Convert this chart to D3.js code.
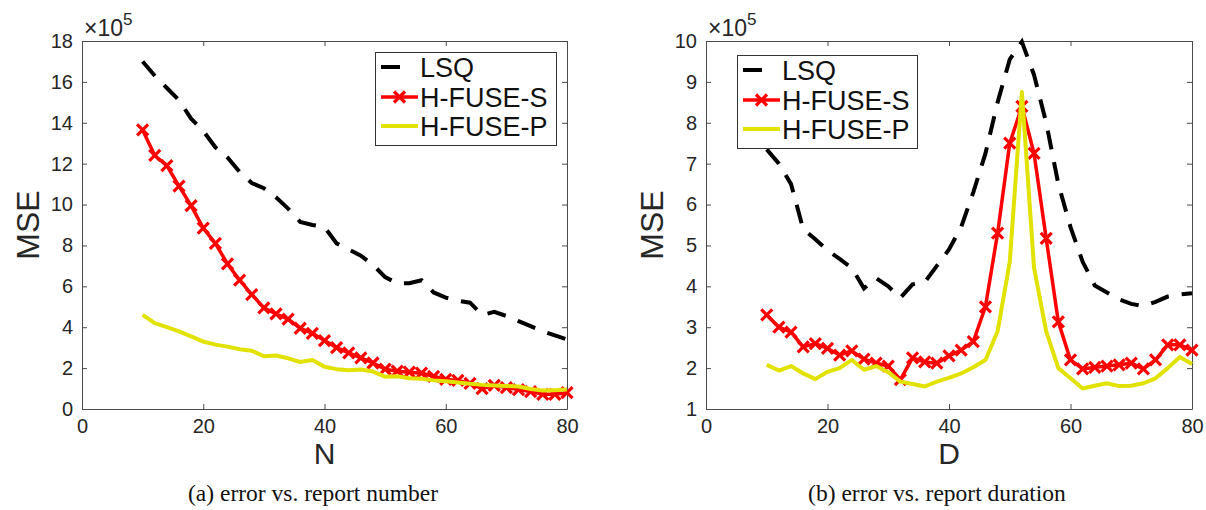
<!DOCTYPE html>
<html><head><meta charset="utf-8">
<script src="https://cdn.jsdelivr.net/npm/d3@7"></script>
<style>body{margin:0;background:#fff}svg{display:block}</style>
</head><body>
<svg id="chart" width="1206" height="510"></svg>
<script>
// ---------- data ----------
const seriesNames = ["LSQ", "H-FUSE-S", "H-FUSE-P"];

const xN = [10,12,14,16,18,20,22,24,26,28,30,32,34,36,38,40,42,44,46,48,50,52,54,56,58,60,62,64,66,68,70,72,74,76,78,80];
const lsqN = [17.0,16.3,15.7,15.1,14.2,13.6,12.8,12.3,11.6,11.05,10.8,10.35,9.8,9.15,9.0,8.9,8.1,7.8,7.5,7.05,6.45,6.15,6.15,6.3,5.7,5.45,5.3,5.2,4.6,4.75,4.55,4.3,4.05,3.8,3.6,3.4];
const hfuseSN = [13.65,12.4,11.9,10.9,9.95,8.85,8.1,7.1,6.3,5.6,4.95,4.65,4.4,3.95,3.7,3.35,3.0,2.75,2.5,2.25,1.95,1.85,1.8,1.75,1.6,1.45,1.4,1.25,1.0,1.15,1.05,0.95,0.85,0.72,0.72,0.8];
const hfusePN = [4.6,4.2,4.0,3.8,3.55,3.3,3.15,3.05,2.92,2.85,2.58,2.62,2.48,2.3,2.4,2.07,1.95,1.9,1.93,1.83,1.58,1.6,1.5,1.48,1.4,1.36,1.3,1.23,1.18,1.15,1.13,1.1,0.98,0.9,0.92,0.95];

const xD = [10,12,14,16,18,20,22,24,26,28,30,32,34,36,38,40,42,44,46,48,50,52,54,56,58,60,62,64,66,68,70,72,74,76,78,80];
const lsqD = [7.35,7.0,6.5,5.4,5.15,4.88,4.67,4.45,3.95,4.2,4.0,3.72,4.05,4.1,4.5,4.9,5.45,6.3,7.25,8.5,9.55,9.98,9.17,8.0,6.5,5.45,4.6,4.02,3.85,3.68,3.57,3.52,3.62,3.75,3.8,3.83];
const hfuseSD = [3.3,3.0,2.88,2.52,2.6,2.48,2.32,2.42,2.22,2.12,2.05,1.72,2.25,2.15,2.12,2.3,2.44,2.65,3.5,5.3,7.5,8.4,7.25,5.17,3.13,2.2,1.98,2.02,2.05,2.08,2.12,1.98,2.2,2.57,2.57,2.44];
const hfusePD = [2.08,1.94,2.05,1.87,1.73,1.91,2.0,2.2,1.96,2.05,1.9,1.67,1.61,1.55,1.67,1.76,1.87,2.02,2.2,2.9,4.6,8.75,4.45,2.9,2.0,1.75,1.5,1.57,1.63,1.56,1.57,1.63,1.75,2.0,2.27,2.1];

const xTicks = [0,20,40,60,80];
const yTicksN = [0,2,4,6,8,10,12,14,16,18];
const yTicksD = [1,2,3,4,5,6,7,8,9,10];
const xLabels = ["N", "D"];
const captions = ["(a) error vs. report number", "(b) error vs. report duration"];

// ---------- layout / style ----------
const FONT = "'Liberation Sans', Arial, Helvetica, sans-serif";
const COLORS = {lsq: "#000000", s: "#ff0000", p: "#e2e200"};
const AXIS = "#4a4a4a", TXT = "#262626";

const panels = [
  {x0: 82, x1: 567, y0: 41, y1: 409, xDom: [0, 80], yDom: [0, 18], yTicks: yTicksN,
   xs: xN, lsq: lsqN, s: hfuseSN, p: hfusePN, xlab: xLabels[0], cap: captions[0],
   capX: 313, legend: {x: 375, y: 52, w: 181, h: 93}},
  {x0: 706, x1: 1192, y0: 41, y1: 409, xDom: [0, 80], yDom: [1, 10], yTicks: yTicksD,
   xs: xD, lsq: lsqD, s: hfuseSD, p: hfusePD, xlab: xLabels[1], cap: captions[1],
   capX: 937, legend: {x: 737, y: 55, w: 180, h: 93}}
];

const svg = d3.select("#chart");
const MARK = "M-5.5,-5.5L5.5,5.5M-5.5,5.5L5.5,-5.5";

panels.forEach(P => {
  const x = d3.scaleLinear().domain(P.xDom).range([P.x0, P.x1]);
  const y = d3.scaleLinear().domain(P.yDom).range([P.y1, P.y0]);
  const g = svg.append("g");

  const styleAxis = sel => {
    sel.select(".domain").attr("stroke", AXIS).attr("stroke-width", 1);
    sel.selectAll(".tick line").attr("stroke", AXIS).attr("stroke-width", 1);
    sel.selectAll("text").attr("fill", TXT).style("font-family", FONT).style("font-size", "20px");
  };
  g.append("g").attr("transform", `translate(0,${P.y1})`)
    .call(d3.axisBottom(x).tickValues(xTicks).tickSizeInner(-5).tickSizeOuter(0).tickPadding(10))
    .call(styleAxis);
  g.append("g").attr("transform", `translate(0,${P.y0})`)
    .call(d3.axisTop(x).tickValues(xTicks).tickSizeInner(-5).tickSizeOuter(0).tickFormat(""))
    .call(styleAxis);
  g.append("g").attr("transform", `translate(${P.x0},0)`)
    .call(d3.axisLeft(y).tickValues(P.yTicks).tickSizeInner(-5).tickSizeOuter(0).tickPadding(9))
    .call(styleAxis);
  g.append("g").attr("transform", `translate(${P.x1},0)`)
    .call(d3.axisRight(y).tickValues(P.yTicks).tickSizeInner(-5).tickSizeOuter(0).tickFormat(""))
    .call(styleAxis);

  // exponent
  const ex = g.append("text").attr("x", P.x0 + 2).attr("y", 36)
    .attr("fill", TXT).style("font-family", FONT).style("font-size", "23px");
  ex.append("tspan").text("\u00d710");
  ex.append("tspan").attr("dy", -11).style("font-size", "17px").text("5");

  // axis labels
  g.append("text").attr("transform", `translate(${P.x0 - 43},${(P.y0 + P.y1) / 2}) rotate(-90)`)
    .attr("text-anchor", "middle").attr("fill", TXT)
    .style("font-family", FONT).style("font-size", "32px").text("MSE");
  g.append("text").attr("x", (P.x0 + P.x1) / 2).attr("y", 464)
    .attr("text-anchor", "middle").attr("fill", TXT)
    .style("font-family", FONT).style("font-size", "30px").text(P.xlab);

  // caption
  g.append("text").attr("x", P.capX).attr("y", 501).attr("text-anchor", "middle")
    .attr("fill", "#111").style("font-family", "'Liberation Serif', 'Times New Roman', serif")
    .style("font-size", "23.5px").text(P.cap);

  // lines
  const line = d3.line().x(d => x(d[0])).y(d => y(d[1]));
  const lsqPts = P.xs.map((v, i) => [v, P.lsq[i]]);
  const sPts = P.xs.map((v, i) => [v, P.s[i]]);
  const pPts = P.xs.map((v, i) => [v, P.p[i]]);

  g.append("path").datum(lsqPts).attr("d", line).attr("fill", "none")
    .attr("stroke", COLORS.lsq).attr("stroke-width", 4).attr("stroke-dasharray", "19,13");
  g.append("path").datum(sPts).attr("d", line).attr("fill", "none")
    .attr("stroke", COLORS.s).attr("stroke-width", 3.5).attr("stroke-linejoin", "round");
  g.selectAll(".mk").data(sPts).enter().append("path").attr("class", "mk")
    .attr("transform", d => `translate(${x(d[0])},${y(d[1])})`)
    .attr("d", MARK).attr("stroke", COLORS.s).attr("stroke-width", 3.2).attr("fill", "none");
  g.append("path").datum(pPts).attr("d", line).attr("fill", "none")
    .attr("stroke", COLORS.p).attr("stroke-width", 4).attr("stroke-linejoin", "round");

  // legend
  const L = P.legend;
  const lg = g.append("g").attr("transform", `translate(${L.x},${L.y})`);
  lg.append("rect").attr("x", 0.5).attr("y", 0.5).attr("width", L.w).attr("height", L.h)
    .attr("fill", "#fff").attr("stroke", "#333").attr("stroke-width", 1);
  const rows = [15, 45, 74];
  const sx0 = 6, sx1 = 43, tx = 45;
  lg.append("line").attr("x1", sx0).attr("x2", sx0 + 19).attr("y1", rows[0]).attr("y2", rows[0])
    .attr("stroke", COLORS.lsq).attr("stroke-width", 4);
  lg.append("line").attr("x1", sx0).attr("x2", sx1).attr("y1", rows[1]).attr("y2", rows[1])
    .attr("stroke", COLORS.s).attr("stroke-width", 3.5);
  lg.append("path").attr("transform", `translate(${(sx0 + sx1) / 2},${rows[1]})`)
    .attr("d", MARK).attr("stroke", COLORS.s).attr("stroke-width", 3.2);
  lg.append("line").attr("x1", sx0).attr("x2", sx1).attr("y1", rows[2]).attr("y2", rows[2])
    .attr("stroke", COLORS.p).attr("stroke-width", 4);
  seriesNames.forEach((n, i) => {
    lg.append("text").attr("x", tx).attr("y", rows[i] + 9.5).attr("fill", "#111")
      .style("font-family", FONT).style("font-size", "27px").text(n);
  });
});
</script>
</body></html>
